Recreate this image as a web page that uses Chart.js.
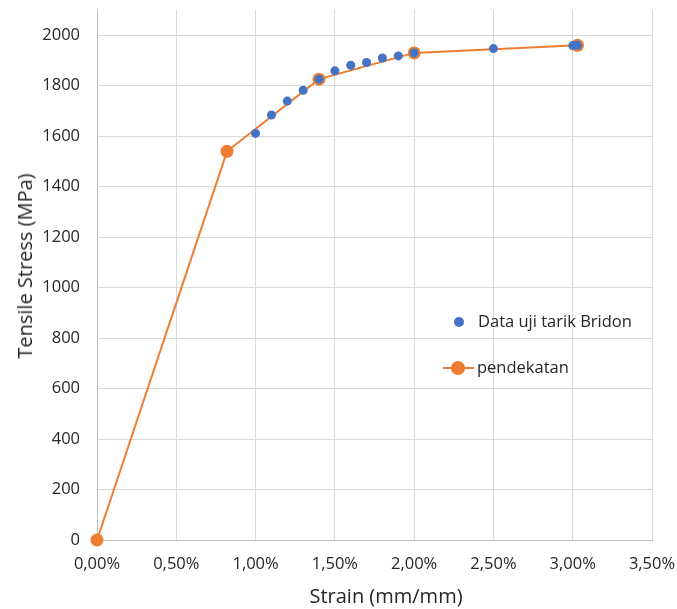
<!DOCTYPE html>
<html>
<head>
<meta charset="utf-8">
<script src="https://cdn.jsdelivr.net/npm/chart.js@4/dist/chart.umd.min.js"></script>
<style>
html,body{margin:0;padding:0;background:#fff;}
#wrap{position:relative;width:677px;height:609px;}
canvas{position:absolute;left:0;top:0;}
.t{position:absolute;font-family:"Open Sans",sans-serif;color:#262626;white-space:nowrap;}
.leg{font-size:16.5px;line-height:22px;}
.ttl{font-size:20px;line-height:26px;}
</style>
</head>
<body>
<div id="wrap">
<canvas id="c" width="677" height="609"></canvas>
<div class="t leg" id="leg1" style="left:454px;top:310px;"><span style="display:inline-block;width:10px;height:10px;border-radius:50%;background:#4472C4;vertical-align:middle;margin-right:14px;position:relative;top:-1px;"></span></div>
<div class="t leg" id="leg2" style="left:443px;top:356px;"><span style="display:inline-block;position:relative;width:31px;height:14px;vertical-align:middle;margin-right:3px;top:-1px;"><span style="position:absolute;left:0;top:6px;width:31px;height:2px;background:#ED7D31;"></span><span style="position:absolute;left:8px;top:0;width:14px;height:14px;border-radius:50%;background:#ED7D31;"></span></span></div>
<div class="t ttl" id="xt" style="left:386px;top:583px;transform:translateX(-50%);"></div>
<div class="t ttl" id="yt" style="left:25px;top:266px;transform:translate(-50%,-50%) rotate(-90deg);"></div>
</div>
<script>
// Data (strain in %, stress in MPa)
const dataStrain = [1.0, 1.1, 1.2, 1.3, 1.4, 1.5, 1.6, 1.7, 1.8, 1.9, 2.0, 2.5, 3.0, 3.03];
const dataStress = [1611, 1684, 1739, 1782, 1826, 1859, 1881, 1892, 1910, 1918, 1930, 1947, 1959, 1960];
const approxStrain = [0.0, 0.82, 1.4, 2.0, 3.03];
const approxStress = [0, 1540, 1826, 1930, 1960];
const seriesNames = ["Data uji tarik Bridon", "pendekatan"];
const xTicks = [0, 0.5, 1.0, 1.5, 2.0, 2.5, 3.0, 3.5];
const yTicks = [0, 200, 400, 600, 800, 1000, 1200, 1400, 1600, 1800, 2000];
const xTitle = "Strain (mm/mm)";
const yTitle = "Tensile Stress (MPa)";

document.getElementById('leg1').appendChild(document.createTextNode(seriesNames[0]));
document.getElementById('leg2').appendChild(document.createTextNode(seriesNames[1]));
document.getElementById('xt').textContent = xTitle;
document.getElementById('yt').textContent = yTitle;

const FONT = '"Open Sans", sans-serif';
const toPts = (xs, ys) => xs.map((x, i) => ({x: x, y: ys[i]}));

new Chart(document.getElementById('c'), {
  type: 'scatter',
  data: {
    datasets: [
      {
        label: seriesNames[0],
        data: toPts(dataStrain, dataStress),
        backgroundColor: '#4472C4',
        borderColor: '#4472C4',
        pointRadius: 4.5,
        pointBorderWidth: 0,
        showLine: false,
        order: 0,
        clip: false
      },
      {
        label: seriesNames[1],
        data: toPts(approxStrain, approxStress),
        backgroundColor: '#ED7D31',
        borderColor: '#ED7D31',
        pointRadius: 6.5,
        pointBorderWidth: 0,
        borderWidth: 2,
        showLine: true,
        order: 1,
        clip: false
      }
    ]
  },
  options: {
    responsive: false,
    animation: false,
    events: [],
    layout: {padding: {left: 0, right: 25, top: 10, bottom: 0}},
    plugins: {legend: {display: false}, tooltip: {enabled: false}},
    scales: {
      x: {
        type: 'linear',
        min: 0, max: 3.5,
        afterBuildTicks: s => { s.ticks = xTicks.map(v => ({value: v})); },
        afterFit: s => { s.height = 69; s.paddingLeft = 0; s.paddingRight = 0; },
        grid: {color: '#d9d9d9', drawTicks: false, lineWidth: 1},
        border: {color: '#bfbfbf', width: 1},
        ticks: {
          padding: 14,
          maxRotation: 0,
          color: '#262626',
          font: {family: FONT, size: 16.5},
          callback: v => v.toFixed(2).replace('.', ',') + '%'
        }
      },
      y: {
        type: 'linear',
        min: 0, max: 2100,
        afterBuildTicks: s => { s.ticks = yTicks.map(v => ({value: v})); },
        afterFit: s => { s.width = 97; s.paddingTop = 0; s.paddingBottom = 0; },
        grid: {color: '#d9d9d9', drawTicks: false, lineWidth: 1},
        border: {color: '#bfbfbf', width: 1},
        ticks: {
          padding: 17,
          color: '#262626',
          font: {family: FONT, size: 16.5},
          callback: v => String(v)
        }
      }
    }
  }
});
</script>
</body>
</html>
